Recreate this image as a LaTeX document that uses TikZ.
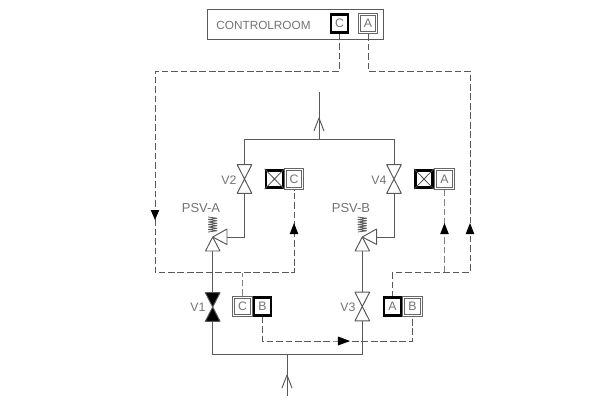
\documentclass[tikz,border=0pt]{standalone}
\usepackage{fontspec}
\setmainfont{Liberation Sans}
\definecolor{linegray}{gray}{0.35}
\definecolor{textgray}{gray}{0.45}
\tikzset{
  pipe/.style={linegray,line width=0.55pt},
  signal/.style={linegray,line width=0.5pt,dash pattern=on 3.8pt off 1.6pt},
  lightsignal/.style={signal,black!50},
  label/.style={textgray,inner sep=0pt,font=\fontsize{7}{8}\selectfont},
  roombox/.style={draw=linegray,line width=0.55pt,minimum width=3.54cm,minimum height=0.6cm,inner sep=0pt},
  thinbox/.style={label,draw=black!60,line width=0.5pt,minimum width=0.39cm,minimum height=0.41cm},
  thickbox/.style={label,draw=black,line width=1.5pt,minimum width=0.34cm,minimum height=0.35cm},
  valve/.style={inner sep=0pt,minimum width=0.28cm,minimum height=0.56cm},
  bow/.style={pipe,fill=white},
  tip/.style={fill=black}
}
\begin{document}
\begin{tikzpicture}[x=0.02cm,y=-0.02cm]
  \useasboundingbox (0,0) rectangle (600,400);
  % control room
  \node [roombox] (room) at (295.5,24.5) {};
  \node [label,font=\fontsize{6.7}{8}\selectfont] (roomtext) at (263.5,25) {CONTROLROOM};
  \node [thickbox] (ccr) at (339.5,23.5) {C};
  \node [thinbox] (acr) at (368,23.5) {A};
  % actuator boxes
  \node [thickbox] (xb2) at (274.5,179) {};
  \node [thinbox] (c2) at (294,179) {C};
  \node [thickbox] (xb4) at (424,179) {};
  \node [thinbox] (a2) at (444.5,179) {A};
  \node [thinbox] (c1) at (242.5,306.5) {C};
  \node [thickbox] (b1) at (262.5,306.5) {B};
  \node [thickbox] (a3) at (392.5,306.5) {A};
  \node [thinbox] (b2) at (412.5,306.5) {B};
  \foreach \b in {acr,c2,a2,c1,b2}
    \draw [line width=0.4pt,black!60] ([shift={(2.5,-2.5)}]\b.south west) rectangle ([shift={(-2.5,2.5)}]\b.north east);
  \foreach \b in {xb2,xb4}
    \draw [line width=0.45pt,black!70] (\b.north west) -- (\b.south east) (\b.north east) -- (\b.south west);
  % valves
  \node [valve] (v1) at (212.7,307) {};
  \node [valve] (v2) at (244.5,179) {};
  \node [valve] (v3) at (362.3,306.5) {};
  \node [valve] (v4) at (394,179) {};
  \node [label] (v1text) at (198,307) {V1};
  \node [label] (v2text) at (229,180) {V2};
  \node [label] (v3text) at (348,307) {V3};
  \node [label] (v4text) at (379,180) {V4};
  \node [label,font=\fontsize{7.4}{8}\selectfont] (psvatext) at (201,208) {PSV-A};
  \node [label,font=\fontsize{7.4}{8}\selectfont] (psvbtext) at (351,208) {PSV-B};
  % pipe junctions
  \coordinate (outlet) at (319,92);
  \coordinate (hdrl) at (244.5,139);
  \coordinate (hdrr) at (394,139);
  \coordinate (inlet) at (287,396);
  \coordinate (feed) at (287,354.5);
  \coordinate (psva) at (212.7,237);
  \coordinate (psvb) at (362.3,237);
  \coordinate (psvaout) at (227,237);
  \coordinate (psvbout) at (377,237);
  \coordinate (psvain) at (212.7,250);
  \coordinate (psvbin) at (362.3,250);
  % pipes
  \draw [pipe] (hdrl) -- (hdrr);
  \draw [pipe] (outlet) -- (outlet |- hdrl);
  \draw [pipe] (v2.north) -- (hdrl);
  \draw [pipe] (v4.north) -- (hdrr);
  \draw [pipe] (v2.south) |- (psvaout);
  \draw [pipe] (v4.south) |- (psvbout);
  \draw [pipe] (psvain) -- (v1.north);
  \draw [pipe] (psvbin) -- (v3.north);
  \draw [pipe] (v1.south) |- (feed);
  \draw [pipe] (v3.south) |- (feed);
  \draw [pipe] (inlet) -- (feed);
  \foreach \v in {v2,v3,v4}
    \draw [bow,line join=bevel] (\v.north west) -- (\v.south east) -- (\v.south west) -- (\v.north east) -- cycle;
  \draw [bow,line join=bevel,fill=black] (v1.north west) -- (v1.south east) -- (v1.south west) -- (v1.north east) -- cycle;
  % relief valves
  \foreach \p in {psva,psvb} {
    \draw [bow,line join=bevel] (\p) -- ++(7.3,14) -- ++(-14.5,0) -- cycle;
    \draw [bow,line join=bevel] (\p) -- ++(14.3,-8) -- ++(0,15.5) -- cycle;
    \draw [pipe,line join=bevel,line width=0.45pt] ([shift={(-4.5,-20)}]\p) foreach \k in {1,...,6} {-- ++(9,1.25) -- ++(-9,1.25)};
  }
  % open flow arrows
  \foreach \a/\b in {319/131,287/388} {
    \draw [pipe,line join=bevel] (\a-5,\b) -- (\a,\b-13) -- (\a+5,\b);
  }
  % signal lines
  \coordinate (tl) at (155,71);
  \coordinate (bl) at (155,272.5);
  \coordinate (tr) at (470,71);
  \coordinate (br) at (470,272.5);
  \coordinate (bm) at (338,341);
  \draw [signal] (ccr.south) |- (tl) -- (bl) -| (c2.south);
  \draw [signal] (acr.south) |- (tr) -- (br) -| (a3.north);
  \draw [lightsignal] (a2.south) -- (a2.south |- br);
  \draw [lightsignal] (c1.north) -- (c1.north |- bl);
  \draw [signal] (b1.south) |- (bm) -| (b2.south);
  % signal arrows
  \foreach \x in {294,444.5,470}
    \fill [tip] (\x,223) -- ++(-4.3,11) -- ++(8.6,0) -- cycle;
  \fill [tip] (155,220) -- ++(-4.3,-10) -- ++(8.6,0) -- cycle;
  \fill [tip] (350,341) -- ++(-12,-4.5) -- ++(0,9) -- cycle;
\end{tikzpicture}
\end{document}
